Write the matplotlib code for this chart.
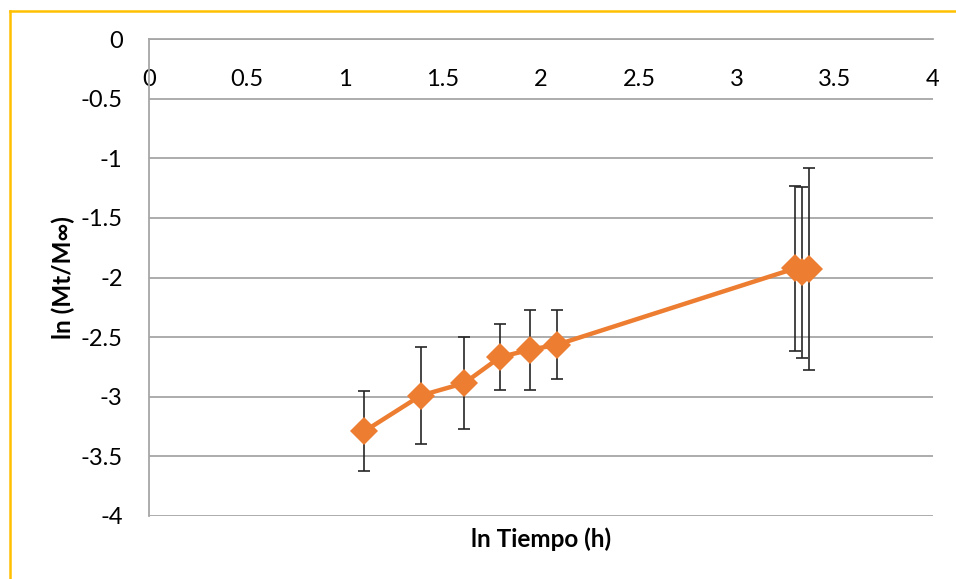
import numpy as np
import matplotlib
matplotlib.use("Agg")
import matplotlib.pyplot as plt
from matplotlib.lines import Line2D

plt.rcParams['font.family'] = ['Lato', 'DejaVu Sans']

# ln of sampling time (h) and ln(Mt/Minf) with standard deviation
ln_t = [1.0986, 1.3863, 1.6094, 1.7918, 1.9459, 2.0794, 3.2958, 3.3322, 3.3673]
ln_m = [-3.29, -2.99, -2.885, -2.667, -2.605, -2.565, -1.924, -1.958, -1.931]
err = [0.335, 0.405, 0.385, 0.275, 0.335, 0.29, 0.692, 0.714, 0.847]

x_ticks = [0, 0.5, 1, 1.5, 2, 2.5, 3, 3.5, 4]
x_labels = ['0', '0.5', '1', '1.5', '2', '2.5', '3', '3.5', '4']
y_ticks = [0, -0.5, -1, -1.5, -2, -2.5, -3, -3.5, -4]
y_labels = ['0', '-0.5', '-1', '-1.5', '-2', '-2.5', '-3', '-3.5', '-4']

fig = plt.figure(figsize=(9.56, 5.79), dpi=100)
ax = fig.add_axes([149/956, 1 - 516/579, (933 - 149)/956, (516 - 39)/579])

grid_c = '#A6A6A6'
ax.errorbar(ln_t, ln_m, yerr=err, fmt='none', ecolor='#262626', elinewidth=1.2,
            capsize=4.5, capthick=1.2, zorder=3)
ax.plot(ln_t, ln_m, color='#ED7D31', lw=3.2, marker='D', markersize=14,
        markeredgewidth=0, zorder=4)

ax.set_xlim(0, 4)
ax.set_ylim(-4, 0)
ax.set_yticks(y_ticks)
ax.set_yticklabels(y_labels, fontsize=17)
ax.yaxis.grid(True, color=grid_c, lw=1.3)
ax.set_axisbelow(True)

ax.set_xticks(x_ticks)
ax.set_xticklabels(x_labels, fontsize=17)
ax.xaxis.tick_top()
ax.tick_params(axis='x', length=0, pad=-37)
ax.tick_params(axis='y', length=0, pad=19)

for s in ['right', 'bottom']:
    ax.spines[s].set_visible(False)
for s in ['left', 'top']:
    ax.spines[s].set_color(grid_c)
    ax.spines[s].set_linewidth(1.3)

ax.set_xlabel('ln Tiempo (h)', fontsize=17.5, fontweight='bold')
ax.xaxis.set_label_position('bottom')
ax.xaxis.labelpad = 8
ax.set_ylabel('ln (Mt/M∞)', fontsize=17.5, fontweight='bold', labelpad=4)

# chart frame
fig.add_artist(Line2D([9.5/956, 9.5/956], [0, 1 - 10.5/579], color='#FFC000', lw=1.8))
fig.add_artist(Line2D([9.5/956, 1], [1 - 10.5/579, 1 - 10.5/579], color='#FFC000', lw=1.8))

fig.savefig('out.png', dpi=100)
